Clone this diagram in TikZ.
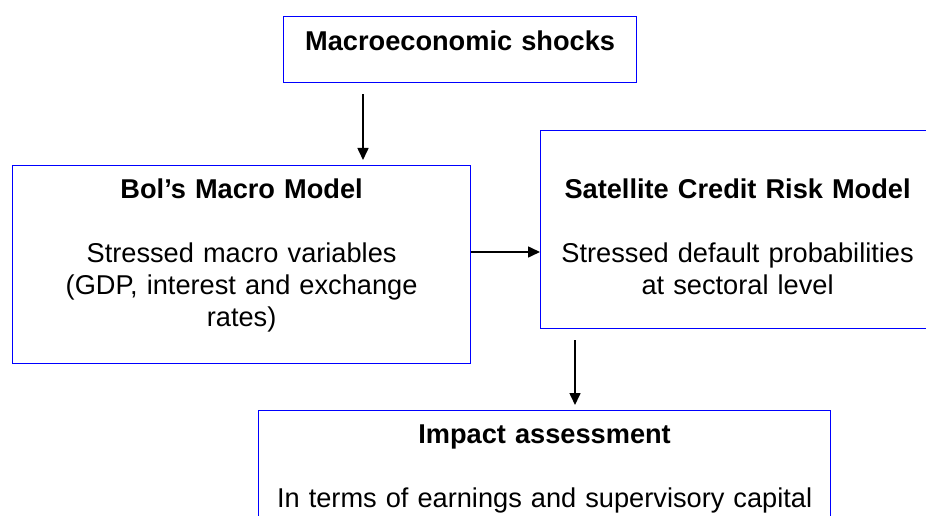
\documentclass[tikz,border=0pt]{standalone}
\usepackage{fontspec}
\setmainfont{Liberation Sans}
\usetikzlibrary{arrows.meta,positioning}
\definecolor{boxblue}{RGB}{0,0,255}

\begin{document}
\begin{tikzpicture}[
    x=1pt, y=-1pt,
    font=\fontsize{27.2}{32}\selectfont,
    box/.style={rectangle, draw=boxblue, line width=1.2pt, inner sep=0pt, align=center, anchor=north west},
    arrow/.style={-{Triangle[length=12pt,width=11pt]}, line width=1.6pt}
]
\clip (0,0) rectangle (926,516);

% Boxes
\node[box, text width=353pt, text height=34pt, text depth=32pt] (shocks) at (283,16) {\textbf{Macroeconomic shocks}};

\node[box, text width=458pt, text height=33pt, text depth=165pt] (bol) at (12,165) {\textbf{Bol’s Macro Model}\\[32pt]Stressed macro variables\\(GDP, interest and exchange\\rates)};

\node[box, text width=394pt, text height=68pt, text depth=130pt] (sat) at (540,130) {\textbf{Satellite Credit Risk Model}\\[32pt]Stressed default probabilities\\at sectoral level};

\node[box, text width=572pt, text height=33pt, text depth=130pt] (impact) at (258,410) {\textbf{Impact assessment}\\[32pt]In terms of earnings and supervisory capital};

% Arrow positions
\coordinate (shockarrow) at (363,0);
\coordinate (modelarrow) at (0,252);
\coordinate (satarrow) at (575,0);

% Arrows
\draw[arrow, shorten <=11pt, shorten >=5pt] (shocks.south -| shockarrow) -- (bol.north -| shockarrow);
\draw[arrow] (bol.east |- modelarrow) -- (sat.west |- modelarrow);
\draw[arrow, shorten <=11pt, shorten >=5pt] (sat.south -| satarrow) -- (impact.north -| satarrow);

\end{tikzpicture}
\end{document}
